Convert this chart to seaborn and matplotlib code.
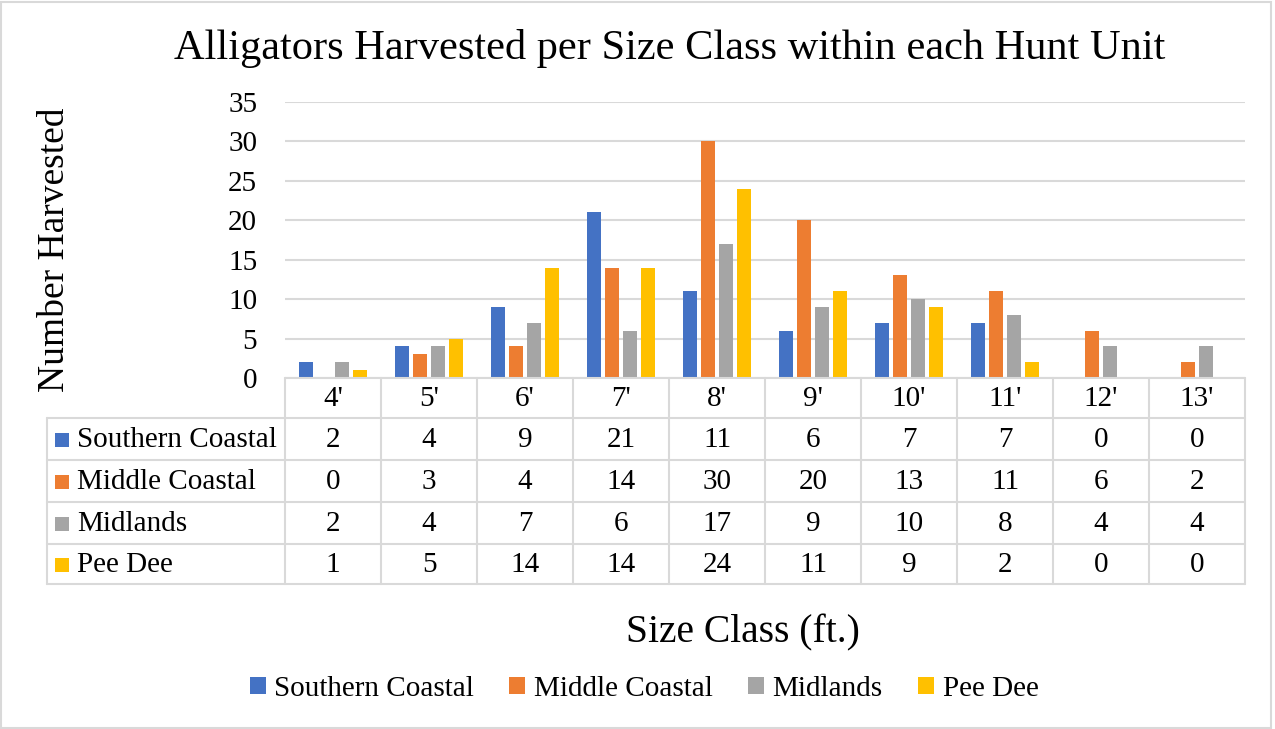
import numpy as np
import pandas as pd
import matplotlib
matplotlib.use("Agg")
import matplotlib.pyplot as plt
import seaborn as sns
from matplotlib.patches import Rectangle
from matplotlib.lines import Line2D
from matplotlib import transforms

# data
sizes = ["4'", "5'", "6'", "7'", "8'", "9'", "10'", "11'", "12'", "13'"]
southern = [2, 4, 9, 21, 11, 6, 7, 7, 0, 0]
middle = [0, 3, 4, 14, 30, 20, 13, 11, 6, 2]
midlands = [2, 4, 7, 6, 17, 9, 10, 8, 4, 4]
pee_dee = [1, 5, 14, 14, 24, 11, 9, 2, 0, 0]
units = ["Southern Coastal", "Middle Coastal", "Midlands", "Pee Dee"]
colors = ["#4472C4", "#ED7D31", "#A5A5A5", "#FFC000"]

series = dict(zip(units, [southern, middle, midlands, pee_dee]))
rows = [(s, u, v) for u in units for s, v in zip(sizes, series[u])]
df = pd.DataFrame(rows, columns=["size", "unit", "count"])

sns.set_theme(style="white")
plt.rcParams["font.family"] = ["Liberation Serif", "DejaVu Serif"]
plt.rcParams["text.color"] = "black"

W, H = 1275, 729
fig = plt.figure(figsize=(W / 100, H / 100), dpi=100)


def fx(p):
    return p / W


def fy(p):
    return 1 - p / H


grid_c = "#D9D9D9"

ax = fig.add_axes([fx(285), fy(378), fx(1245) - fx(285), fy(102) - fy(378)])
sns.barplot(data=df, x="size", y="count", hue="unit", hue_order=units,
            palette=colors, width=0.75, gap=0.2, saturation=1,
            linewidth=0, ax=ax)
ax.get_legend().remove()
ax.set_xlim(-0.5, len(sizes) - 0.5)
ax.set_ylim(0, 35)
ax.set_yticks(range(0, 36, 5))
ax.set_xticks([])
ax.set_xlabel("")
ax.set_ylabel("")
ax.yaxis.grid(True, color=grid_c, lw=1.5)
ax.set_axisbelow(True)
for sp in ax.spines.values():
    sp.set_visible(False)
ax.tick_params(axis="y", length=0, pad=20, labelsize=21, labelcolor="black")

# data table below the plot
trans = transforms.blended_transform_factory(ax.transData, fig.transFigure)
row_px = [378, 418, 460, 502, 544, 584]
for i in range(len(sizes) + 1):
    fig.add_artist(Line2D([i - 0.5, i - 0.5], [fy(row_px[0]), fy(row_px[-1])],
                          transform=trans, color=grid_c, lw=1.5))
fig.add_artist(Line2D([fx(285), fx(1245)], [fy(378), fy(378)],
                      transform=fig.transFigure, color=grid_c, lw=1.5))
for y in row_px[1:]:
    fig.add_artist(Line2D([fx(47), fx(1245)], [fy(y), fy(y)],
                          transform=fig.transFigure, color=grid_c, lw=1.5))
fig.add_artist(Line2D([fx(47), fx(47)], [fy(418), fy(584)],
                      transform=fig.transFigure, color=grid_c, lw=1.5))

hy = (row_px[0] + row_px[1]) / 2 + 1
for i, s in enumerate(sizes):
    fig.text(i, fy(hy), s, transform=trans, ha="center", va="center",
             fontsize=21, color="black")

for r, u in enumerate(units):
    cy = (row_px[r + 1] + row_px[r + 2]) / 2 + 1
    fig.add_artist(Rectangle((fx(55), fy(cy + 7)), fx(14), 14 / H,
                             transform=fig.transFigure, color=colors[r], lw=0))
    fig.text(fx(77), fy(cy), u, ha="left", va="center", fontsize=21, color="black")
    for i, v in enumerate(series[u]):
        fig.text(i, fy(cy), str(v), transform=trans, ha="center", va="center",
                 fontsize=21, color="black")

# titles and labels
fig.text(fx(670), fy(48), "Alligators Harvested per Size Class within each Hunt Unit",
         ha="center", va="center", fontsize=30.5, color="black")
fig.text(fx(55), fy(250), "Number Harvested", rotation=90,
         ha="center", va="center", fontsize=27, color="black")
fig.text(fx(743), fy(633), "Size Class (ft.)", ha="center", va="center",
         fontsize=28.5, color="black")

handles = [Rectangle((0, 0), 1, 1, color=c, lw=0) for c in colors]
leg = fig.legend(handles, units, loc="center", bbox_to_anchor=(fx(644), fy(689)),
                 ncol=4, frameon=False, fontsize=21, handlelength=0.55,
                 handleheight=0.55, handletextpad=0.3, columnspacing=1.2)
for t in leg.get_texts():
    t.set_color("black")

fig.add_artist(Rectangle((0.001, 0.002), 0.996, 0.995, transform=fig.transFigure,
                         fill=False, edgecolor=grid_c, lw=1.5))

fig.savefig("out.png", dpi=100)
